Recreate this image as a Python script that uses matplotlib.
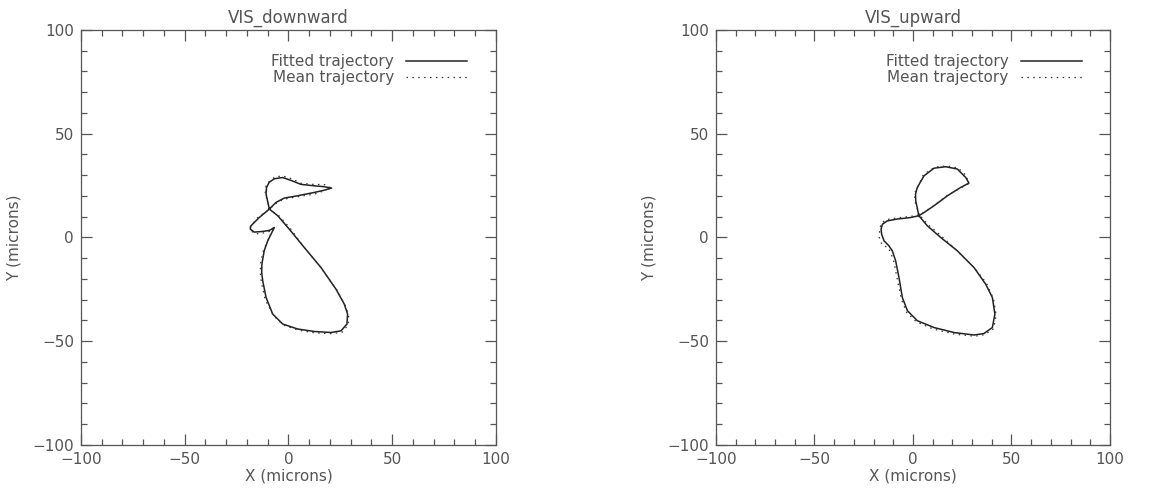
import matplotlib.pyplot as plt
from matplotlib.ticker import MultipleLocator

# VIS_downward, fitted trajectory (microns)
down_fit_x = [-9.2, -10.8, -10.6, -9.3, -6.8, -2.8, 1.2, 6.0, 12.4, 17.0, 20.8, 16.5, 12.4, 4.4, -2.0,
              -6.0, -9.2, -14.1, -18.1, -18.4, -16.5, -12.4, -9.2, -6.8, -8.4, -10.0, -11.7, -12.8,
              -12.9, -12.4, -10.8, -7.6, -2.8, 4.4, 12.4, 20.5, 25.3, 28.2, 28.5, 26.9, 22.9, 15.7,
              7.6, 0.4, -5.2, -9.2]
down_fit_y = [13.7, 20.9, 24.0, 26.6, 28.3, 28.9, 27.5, 25.6, 24.9, 24.5, 23.8, 22.6, 21.7, 20.1, 19.0,
              16.9, 13.7, 9.6, 5.6, 4.0, 2.6, 2.9, 3.4, 4.8, 1.6, -1.6, -6.4, -12.8,
              -17.0, -20.9, -28.9, -36.9, -41.7, -44.1, -45.3, -45.8, -45.0, -41.7, -36.9, -32.1, -24.9, -14.5,
              -4.8, 4.0, 10.5, 13.7]

# VIS_downward, mean trajectory
down_mean_x = [-9.0, -11.2, -10.9, -9.0, -6.3, -2.5, 1.5, 6.2, 12.0, 17.3, 20.5, 16.0, 12.8, 4.1, -2.4,
               -6.4, -9.5, -14.6, -18.5, -18.0, -15.8, -12.0, -8.9, -6.5, -8.9, -10.4, -12.3, -13.6,
               -13.5, -13.0, -11.2, -7.2, -2.3, 4.9, 12.8, 20.9, 25.9, 28.8, 29.0, 27.2, 23.4, 15.3,
               7.2, 0.8, -5.0, -9.0]
down_mean_y = [13.2, 21.2, 24.6, 27.4, 29.3, 29.6, 28.3, 26.1, 25.6, 25.5, 23.9, 22.1, 21.0, 19.6, 18.4,
               16.2, 13.4, 9.8, 5.1, 3.1, 1.7, 2.2, 3.0, 5.3, 1.0, -2.3, -7.0, -13.3,
               -17.8, -21.9, -30.0, -37.6, -42.3, -44.7, -46.0, -46.4, -45.6, -42.1, -37.3, -32.4, -25.4, -14.1,
               -4.3, 4.5, 10.9, 13.2]

# VIS_upward, fitted trajectory (microns)
up_fit_x = [3.0, 1.4, 1.3, 2.2, 5.6, 10.7, 16.6, 22.5, 26.8, 28.4, 24.2, 17.5, 10.7, 5.6, 3.0,
            -1.2, -7.9, -13.0, -15.5, -16.2, -15.9, -14.7, -12.2, -10.5, -8.8, -7.1, -5.4, -2.8,
            2.2, 10.7, 20.8, 31.0, 36.0, 40.3, 41.6, 40.3, 36.9, 31.0, 22.5, 14.1, 7.3, 3.0]
up_fit_y = [10.5, 17.7, 21.0, 24.1, 29.7, 33.4, 34.1, 33.0, 28.9, 26.2, 24.1, 20.1, 15.3, 12.0, 10.5,
            9.6, 8.9, 8.0, 6.4, 4.0, 1.6, -1.6, -4.0, -6.4, -11.2, -19.3, -28.9, -35.3,
            -40.1, -43.4, -45.8, -47.0, -46.3, -43.4, -36.9, -28.9, -22.5, -14.5, -6.4, 0.0, 5.6, 10.5]

# VIS_upward, mean trajectory
up_mean_x = [3.3, 1.0, 0.9, 2.6, 5.2, 11.1, 17.0, 22.9, 27.3, 28.0, 23.7, 17.9, 11.2, 6.0, 3.3,
             -1.6, -8.3, -13.4, -16.1, -16.8, -17.2, -15.6, -12.6, -11.3, -9.6, -8.0, -5.9, -3.3,
             1.8, 10.3, 21.2, 31.5, 36.5, 41.0, 42.2, 40.9, 37.3, 31.5, 22.0, 14.6, 7.8, 3.3]
up_mean_y = [10.9, 17.3, 21.5, 24.6, 30.2, 33.9, 34.5, 33.5, 29.6, 25.8, 23.6, 20.6, 15.8, 12.4, 10.9,
             10.1, 9.4, 8.6, 6.9, 4.4, 0.3, -3.8, -4.8, -7.4, -12.0, -20.0, -29.6, -36.0,
             -40.7, -44.1, -46.6, -47.6, -46.8, -43.9, -37.4, -29.6, -22.0, -15.0, -6.0, 0.5, 6.1, 10.9]

titles = ["VIS_downward", "VIS_upward"]
fits = [(down_fit_x, down_fit_y), (up_fit_x, up_fit_y)]
means = [(down_mean_x, down_mean_y), (up_mean_x, up_mean_y)]

GRAY = "#555555"
plt.rcParams["font.family"] = "DejaVu Sans"

fig = plt.figure(figsize=(11.52, 4.93), dpi=100)
axes = [fig.add_axes([0.0703, 0.0974, 0.3602, 0.8418]),
        fig.add_axes([0.6215, 0.0974, 0.3420, 0.8418])]

for ax, title, (fx, fy), (mx, my) in zip(axes, titles, fits, means):
    ax.plot(fx, fy, color="#222222", lw=1.1, label="Fitted trajectory")
    ax.plot(mx, my, color="#333333", lw=0.9, ls=(0, (1.2, 3.5)), label="Mean trajectory")
    ax.set_xlim(-100, 100)
    ax.set_ylim(-100, 100)
    ax.xaxis.set_major_locator(MultipleLocator(50))
    ax.xaxis.set_minor_locator(MultipleLocator(10))
    ax.yaxis.set_major_locator(MultipleLocator(50))
    ax.yaxis.set_minor_locator(MultipleLocator(10))
    ax.tick_params(which="both", direction="in", top=True, right=True,
                   color=GRAY, labelcolor=GRAY, labelsize=11, width=0.9)
    ax.tick_params(which="major", length=8, pad=5)
    ax.tick_params(which="minor", length=4)
    for s in ax.spines.values():
        s.set_color(GRAY)
        s.set_linewidth(0.9)
    ax.set_title(title, color=GRAY, fontsize=12, pad=5)
    ax.set_xlabel("X (microns)", color=GRAY, fontsize=11, labelpad=1)
    ax.set_ylabel("Y (microns)", color=GRAY, fontsize=11, labelpad=8)
    # legend sits a bit in from the top right corner, line after the text
    leg = ax.legend(loc="upper right", bbox_to_anchor=(0.968, 0.978), frameon=False,
                    markerfirst=False, handlelength=4.0, fontsize=11, labelspacing=0.05,
                    borderaxespad=0.6, handletextpad=0.8)
    for t in leg.get_texts():
        t.set_color(GRAY)

fig.savefig("out.png", dpi=100)
